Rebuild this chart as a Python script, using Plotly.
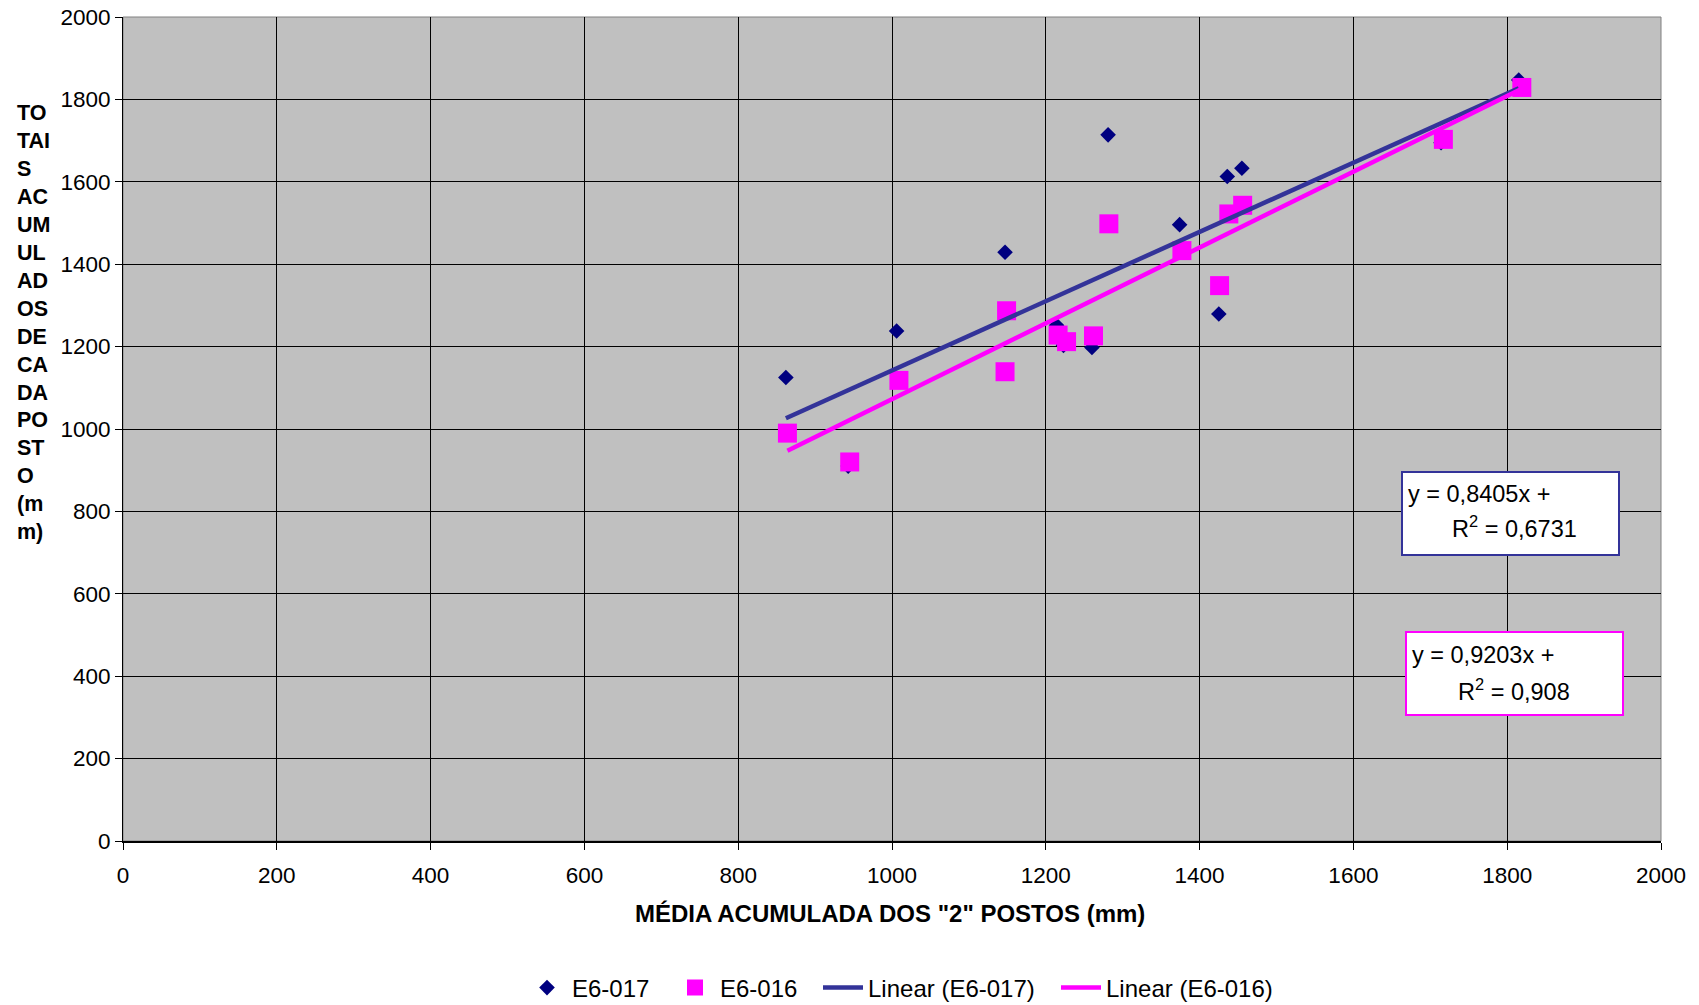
import plotly.graph_objects as go

# ---- data ----
x_e6017 = [862, 943, 1006, 1147, 1214, 1223, 1260, 1281, 1374, 1425, 1436, 1455, 1714, 1815]
y_e6017 = [1125, 910, 1238, 1429, 1252, 1203, 1198, 1714, 1496, 1279, 1613, 1633, 1695, 1847]

x_e6016 = [864, 945, 1009, 1147, 1149, 1216, 1227, 1262, 1282, 1377, 1426, 1438, 1456, 1717, 1819]
y_e6016 = [990, 920, 1118, 1139, 1287, 1228, 1212, 1226, 1498, 1433, 1348, 1522, 1543, 1703, 1829]

# trendline coefficients as shown on the chart
slope_017, icpt_017, r2_017 = 0.8405, 301.6, 0.6731
slope_016, icpt_016, r2_016 = 0.9203, 152.0, 0.908

series_names = ["E6-017", "E6-016", "Linear (E6-017)", "Linear (E6-016)"]
x_ticks = [0, 200, 400, 600, 800, 1000, 1200, 1400, 1600, 1800, 2000]
y_ticks = [0, 200, 400, 600, 800, 1000, 1200, 1400, 1600, 1800, 2000]

x_title = 'MÉDIA ACUMULADA DOS "2" POSTOS (mm)'
y_title_lines = ["TO", "TAI", "S", "AC", "UM", "UL", "AD", "OS", "DE", "CA", "DA", "PO", "ST", "O", "(m", "m)"]

# ---- layout geometry (pixels) ----
W, H = 1699, 1005
L, R, T, B = 123, 38, 17, 164
PW, PH = W - L - R, H - T - B


def px(xp):
    return (xp - L) / PW


def py(yp):
    return (H - B - yp) / PH


FONT = "Arial, Liberation Sans, sans-serif"
BLUE = "#333399"
NAVY = "#000080"
MAG = "#FF00FF"

fig = go.Figure()

fig.add_trace(go.Scatter(x=x_e6017, y=y_e6017, mode="markers", name=series_names[0], legend="legend",
                         marker=dict(symbol="diamond", size=12, color=NAVY, line=dict(width=0))))
fig.add_trace(go.Scatter(x=x_e6016, y=y_e6016, mode="markers", name=series_names[1], legend="legend2",
                         marker=dict(symbol="square", size=19, color=MAG, line=dict(width=0))))

x0a, x1a = min(x_e6017), max(x_e6017)
fig.add_trace(go.Scatter(x=[x0a, x1a], y=[slope_017 * x0a + icpt_017, slope_017 * x1a + icpt_017],
                         mode="lines", name=series_names[2], legend="legend3",
                         line=dict(color=BLUE, width=4.5)))
x0b, x1b = min(x_e6016), max(x_e6016)
fig.add_trace(go.Scatter(x=[x0b, x1b], y=[slope_016 * x0b + icpt_016, slope_016 * x1b + icpt_016],
                         mode="lines", name=series_names[3], legend="legend4",
                         line=dict(color=MAG, width=4.5)))

fig.update_xaxes(range=[0, 2000], tickvals=x_ticks, ticktext=[str(v) for v in x_ticks],
                 showgrid=True, gridcolor="black", gridwidth=1, zeroline=False,
                 showline=True, linecolor="black", linewidth=2,
                 ticks="outside", ticklen=7, tickcolor="black", tickwidth=1,
                 ticklabelstandoff=6,
                 tickfont=dict(family=FONT, size=22.5, color="black"))
fig.update_yaxes(range=[0, 2000], tickvals=y_ticks, ticktext=[str(v) for v in y_ticks],
                 showgrid=True, gridcolor="black", gridwidth=1, zeroline=False,
                 showline=True, linecolor="black", linewidth=1,
                 ticks="outside", ticklen=7, tickcolor="black", tickwidth=1,
                 tickfont=dict(family=FONT, size=22.5, color="black"))

shapes = [
    dict(type="rect", xref="paper", yref="paper", x0=0, x1=1, y0=0, y1=1,
         line=dict(color="#808080", width=1), layer="below"),
    dict(type="rect", xref="paper", yref="paper", x0=px(1402), x1=px(1619), y0=py(555), y1=py(472),
         line=dict(color=BLUE, width=2), fillcolor="white", layer="above"),
    dict(type="rect", xref="paper", yref="paper", x0=px(1406), x1=px(1623), y0=py(715), y1=py(632),
         line=dict(color=MAG, width=2), fillcolor="white", layer="above"),
]

annotations = [
    dict(text=x_title, xref="paper", yref="paper", x=px(890), y=py(913), showarrow=False,
         xanchor="center", yanchor="middle", font=dict(family=FONT, size=24, color="black", weight="bold")),
    dict(text="<br>".join(y_title_lines), xref="paper", yref="paper", x=px(15), y=py(322),
         showarrow=False, xanchor="left", yanchor="middle", align="left",
         font=dict(family=FONT, size=21.5, color="black", weight="bold")),
    dict(text=f"y = {slope_017:.4f}x +".replace(".", ","), xref="paper", yref="paper",
         x=px(1406), y=py(494), showarrow=False, xanchor="left", yanchor="middle",
         font=dict(family=FONT, size=23.5, color="black")),
    dict(text=f"R<sup>2</sup> = {r2_017}".replace(".", ","), xref="paper", yref="paper",
         x=px(1514), y=py(527), showarrow=False, xanchor="center", yanchor="middle",
         font=dict(family=FONT, size=23.5, color="black")),
    dict(text=f"y = {slope_016:.4f}x +".replace(".", ","), xref="paper", yref="paper",
         x=px(1410), y=py(655), showarrow=False, xanchor="left", yanchor="middle",
         font=dict(family=FONT, size=23.5, color="black")),
    dict(text=f"R<sup>2</sup> = {r2_016}".replace(".", ","), xref="paper", yref="paper",
         x=px(1514), y=py(690), showarrow=False, xanchor="center", yanchor="middle",
         font=dict(family=FONT, size=23.5, color="black")),
]


def leg(sym_center_px):
    return dict(orientation="h", x=px(sym_center_px - 25), y=py(988), xanchor="left", yanchor="middle",
                font=dict(family=FONT, size=24, color="black"), bgcolor="rgba(0,0,0,0)",
                itemwidth=40)


fig.update_layout(
    width=W, height=H,
    margin=dict(l=L, r=R, t=T, b=B, autoexpand=False),
    paper_bgcolor="white", plot_bgcolor="#C0C0C0",
    font=dict(family=FONT, size=22, color="black"),
    showlegend=True,
    legend=leg(547), legend2=leg(695), legend3=leg(843), legend4=leg(1081),
    shapes=shapes, annotations=annotations,
)

fig.write_html("out.html")
